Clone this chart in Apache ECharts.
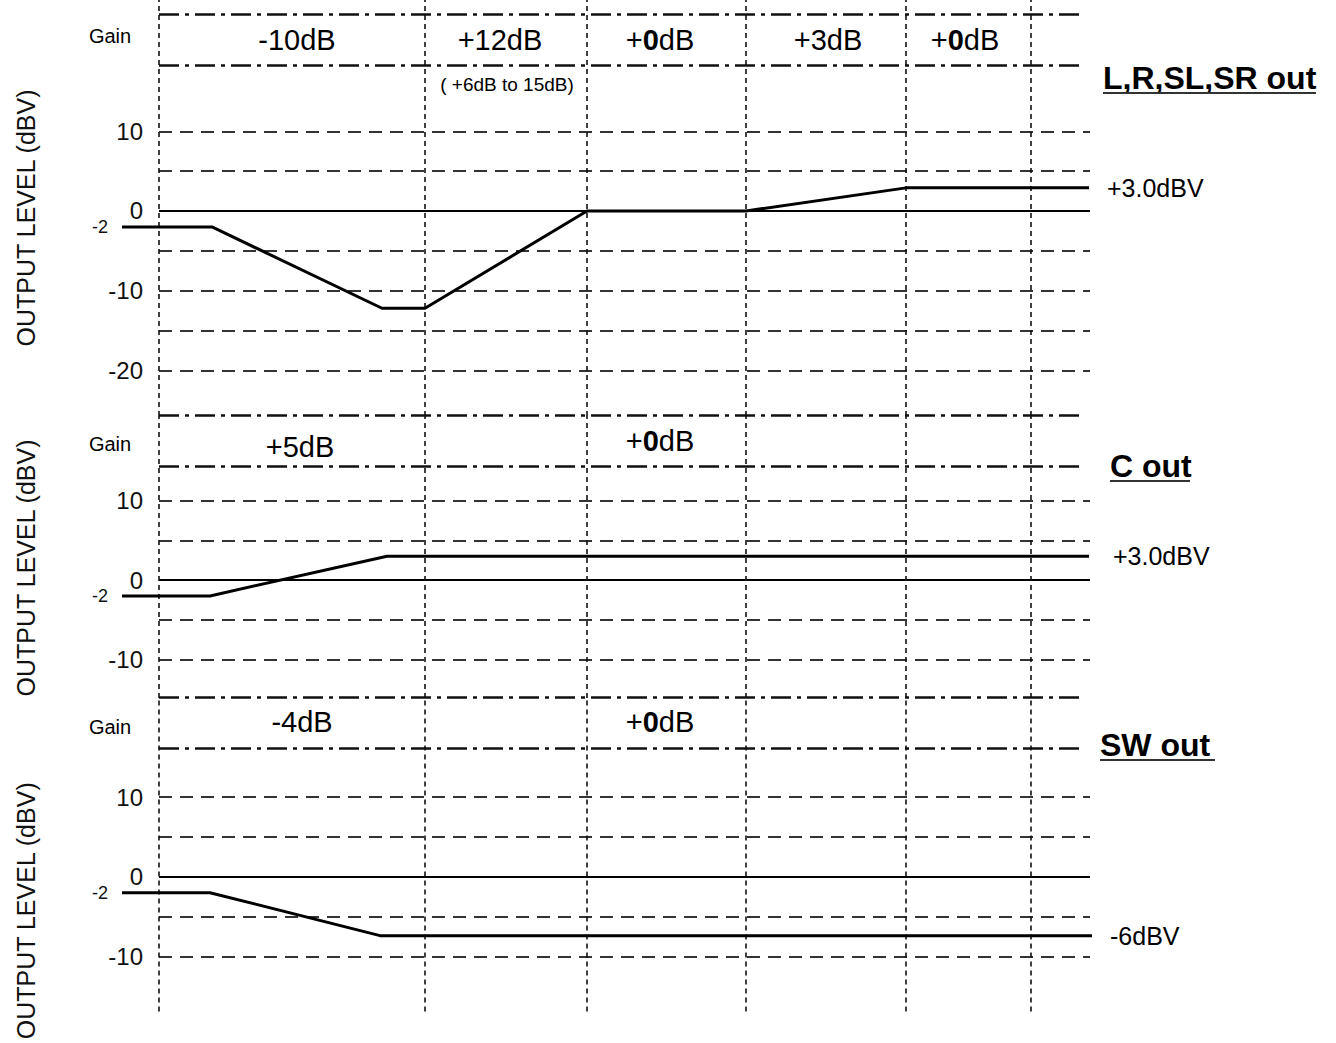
<!DOCTYPE html>
<html><head><meta charset="utf-8">
<script src="https://cdn.jsdelivr.net/npm/echarts@6/dist/echarts.min.js"></script>
<style>html,body{margin:0;padding:0;background:#fff}#c{width:1336px;height:1043px}</style>
</head><body><div id="c"></div>
<script>
// ---- data (x = stage position along the signal path, y = dBV) ----
const stageBounds = [0, 2.66, 4.28, 5.87, 7.47, 8.72];
const xStart = -0.37, xEnd = 9.31;

// Panel 1 : L,R,SL,SR out
const p1X = [-0.37, 0.53, 2.23, 2.66, 4.28, 5.87, 7.47, 9.30];
const p1Y = [-2, -2, -12.2, -12.2, 0, 0, 2.9, 2.9];
const p1GainX = [1.38, 3.41, 5.01, 6.69, 8.06];
const p1GainText = ['-10dB', '+12dB', '+{b|0}dB', '+3dB', '+{b|0}dB'];
const p1GainYs = [21.5, 21.5, 21.5, 21.5, 21.5];
const p1DashLevels = [10, 5, -5, -10, -15, -20];
const p1Ticks = [10, 0, -2, -10, -20];
const p1Rows = [24.7, 18.3, -25.6];
const p1End = '+3.0dBV';

// Panel 2 : C out
const p2X = [-0.37, 0.51, 2.28, 9.30];
const p2Y = [-2, -2, 3, 3];
const p2GainX = [1.41, 5.01];
const p2GainText = ['+5dB', '+{b|0}dB'];
const p2GainYs = [16.7, 17.5];
const p2DashLevels = [10, 5, -5, -10];
const p2Ticks = [10, 0, -2, -10];
const p2Rows = [14.34, -14.72];
const p2End = '+3.0dBV';

// Panel 3 : SW out
const p3X = [-0.37, 0.51, 2.21, 9.36];
const p3Y = [-2, -2, -7.4, -7.4];
const p3GainX = [1.43, 5.01];
const p3GainText = ['-4dB', '+{b|0}dB'];
const p3GainYs = [19.4, 19.4];
const p3DashLevels = [10, 5, -5, -10];
const p3Ticks = [10, 0, -2, -10];
const p3Rows = [16.19];
const p3End = '-6dBV';

const gainWordX = -0.49;
const gainWordY = [22.0, 17.1, 18.8];
const noteText = '( +6dB to 15dB)';
const noteXY = [3.48, 15.9];
const yRanges = [[-25.72, 26.47], [-14.84, 20.63], [-16.94, 22.46]];
const outNames = ['L,R,SL,SR out', 'C out', 'SW out'];

// ---- build ----
const FONT = '"Liberation Sans", Arial, sans-serif';
const INK = '#000';
const chart = echarts.init(document.getElementById('c'), null, {renderer: 'svg'});

const grids = [
  {left: 122, right: 246, top: 0, height: 416},
  {left: 122, right: 246, top: 416, height: 282},
  {left: 122, right: 246, top: 698, height: 314}
];
const nameShift = [20, 22, 112];

const xAxes = grids.map((g, i) => ({type: 'value', gridIndex: i, min: xStart, max: xEnd, show: false}));
const yAxes = grids.map((g, i) => ({
  type: 'value', gridIndex: i, min: yRanges[i][0], max: yRanges[i][1], offset: -37,
  axisLine: {show: false}, axisTick: {show: false}, splitLine: {show: false},
  name: 'OUTPUT LEVEL (dBV)', nameLocation: 'middle', nameGap: 121,
  nameTextStyle: {fontFamily: FONT, fontSize: 25, color: '#111', padding: [0, nameShift[i], 0, 0]},
  axisLabel: {
    customValues: [p1Ticks, p2Ticks, p3Ticks][i],
    margin: 16, fontFamily: FONT, fontSize: 24, color: '#111',
    formatter: v => v === -2 ? '{s|-2}' : String(v),
    rich: {s: {fontFamily: FONT, fontSize: 18, color: '#111', padding: [0, 35, 0, 0]}}
  }
}));

const dashed = {type: [13, 8], color: '#333', width: 2};
const dashDot = {type: [20, 6, 4, 6], color: '#111', width: 2.6};
const dotted = {type: [5, 4], color: '#111', width: 1.6};
const solid = {type: 'solid', color: '#000', width: 2.2};

const mk = (arrX, arrT, arrY) => arrX.map((x, k) => ({name: arrT[k], value: [x, arrY[k]]}));
const panels = [
  {x: p1X, y: p1Y, dl: p1DashLevels, rows: p1Rows, end: p1End, rowEnd: 9.26, gain: mk(p1GainX, p1GainText, p1GainYs)},
  {x: p2X, y: p2Y, dl: p2DashLevels, rows: p2Rows, end: p2End, rowEnd: 9.26, gain: mk(p2GainX, p2GainText, p2GainYs)},
  {x: p3X, y: p3Y, dl: p3DashLevels, rows: p3Rows, end: p3End, rowEnd: 9.26, gain: mk(p3GainX, p3GainText, p3GainYs)}
];

const series = [];
panels.forEach((p, i) => {
  const ml = [];
  p.dl.forEach(v => ml.push([{coord: [0, v], lineStyle: dashed}, {coord: [xEnd, v]}]));
  p.rows.forEach(v => ml.push([{coord: [0, v], lineStyle: dashDot}, {coord: [p.rowEnd, v]}]));
  ml.push([{coord: [0, 0], lineStyle: solid}, {coord: [xEnd, 0]}]);
  stageBounds.forEach(v => ml.push({xAxis: v, lineStyle: dotted}));
  series.push({
    type: 'line', xAxisIndex: i, yAxisIndex: i, data: [], z: 1, silent: true,
    markLine: {silent: true, symbol: ['none', 'none'], label: {show: false}, data: ml, animation: false}
  });
  series.push({
    type: 'line', xAxisIndex: i, yAxisIndex: i, z: 5, clip: false, silent: true,
    symbol: 'none', lineStyle: {color: '#000', width: 3}, animation: false,
    data: p.x.map((x, k) => [x, p.y[k]]),
    endLabel: {show: true, formatter: p.end, distance: i === 1 ? 24 : 18,
      fontFamily: FONT, fontSize: 25, color: INK}
  });
  const labels = p.gain.slice();
  labels.push({name: 'Gain', value: [gainWordX, gainWordY[i]], label: {fontSize: 20}});
  if (i === 0) labels.push({name: noteText, value: noteXY, label: {fontSize: 19}});
  series.push({
    type: 'scatter', xAxisIndex: i, yAxisIndex: i, z: 6, clip: false, silent: true,
    symbolSize: 1, itemStyle: {color: '#fff', opacity: 1}, animation: false,
    emphasis: {disabled: true},
    data: labels,
    label: {show: true, position: 'inside', fontFamily: FONT, fontSize: 29, color: INK, opacity: 1,
      textBorderWidth: 0,
      formatter: q => q.name,
      rich: {b: {fontFamily: FONT, fontSize: 29, fontWeight: 'bold', color: INK}}}
  });
});

// output titles (underlined)
const titlePos = [[1103, 78, 1316], [1110, 466, 1190], [1100, 745, 1215]];
const graphic = [];
outNames.forEach((t, i) => {
  const [x, y, x2] = titlePos[i];
  graphic.push({type: 'text', x: x, y: y, style: {text: t, fill: '#000',
    font: 'bold 32px "Liberation Sans", Arial', textVerticalAlign: 'middle', verticalAlign: 'middle'}});
  graphic.push({type: 'line', shape: {x1: x, y1: y + 15, x2: x2, y2: y + 15}, style: {stroke: '#333', lineWidth: 2}});
});

chart.setOption({
  backgroundColor: '#fff', animation: false,
  grid: grids, xAxis: xAxes, yAxis: yAxes, series: series, graphic: graphic
});
</script></body></html>
